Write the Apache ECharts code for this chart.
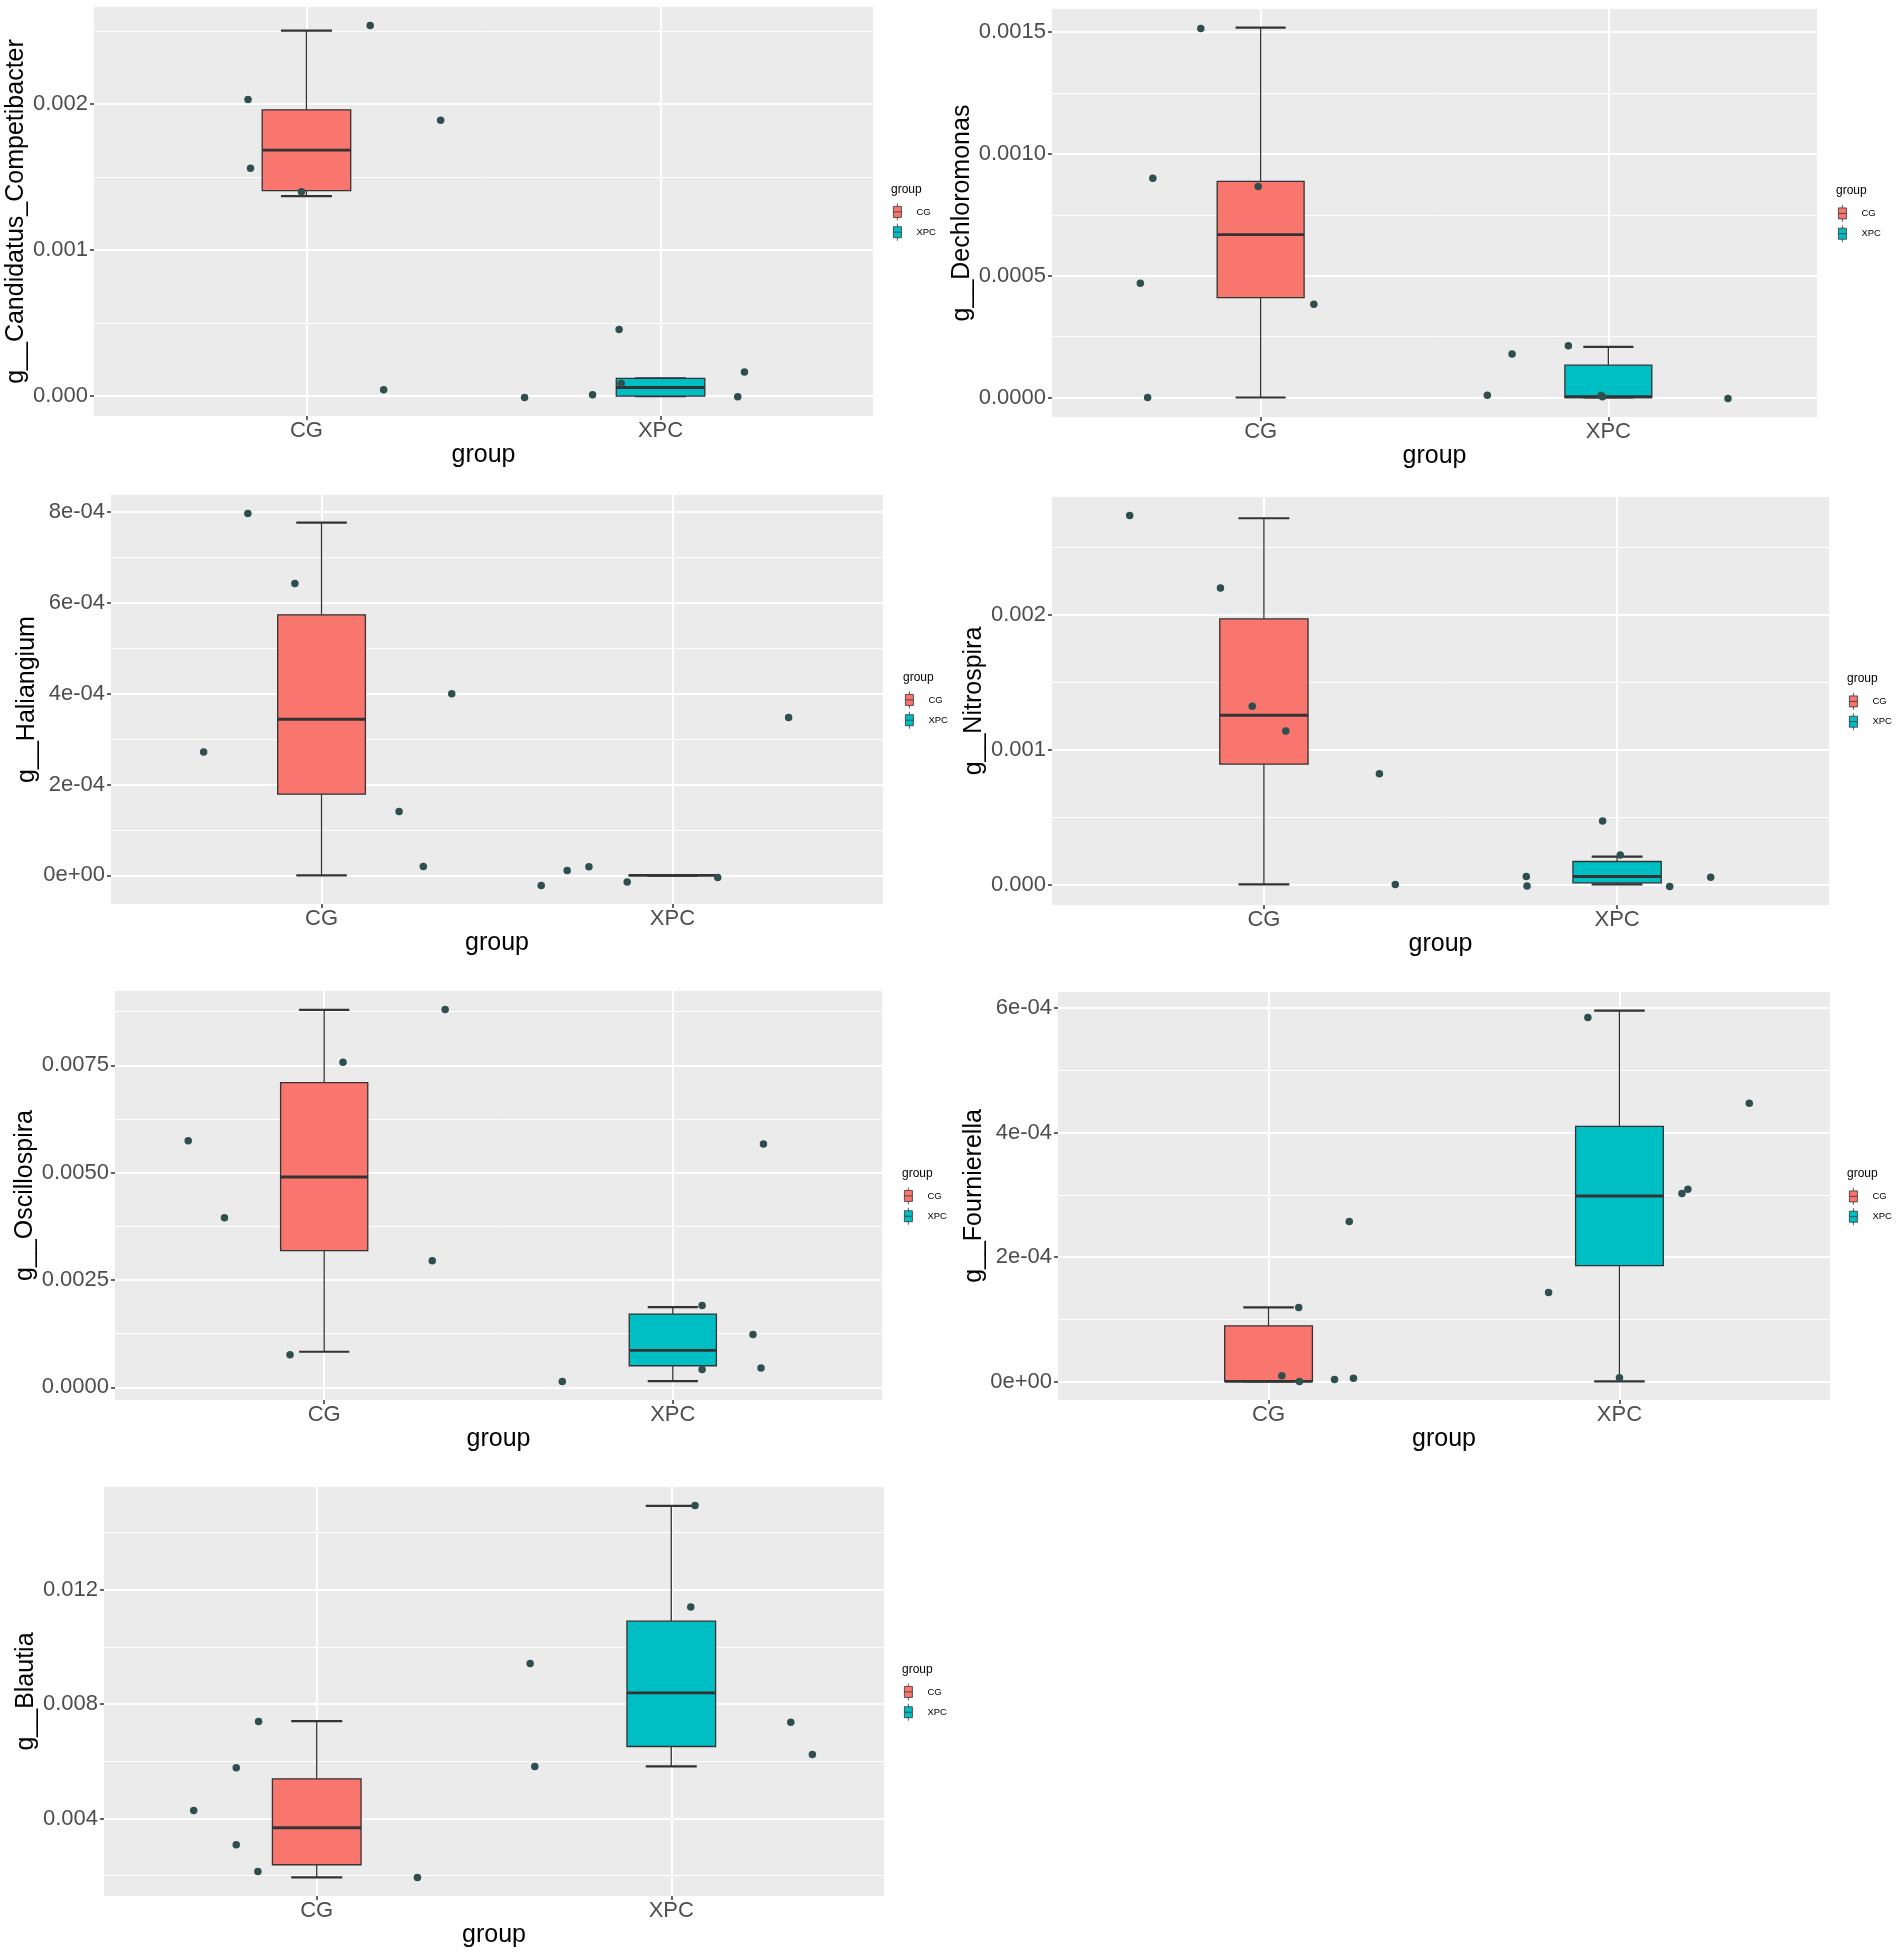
<!DOCTYPE html>
<html>
<head>
<meta charset="utf-8">
<script src="https://cdn.jsdelivr.net/npm/echarts@6/dist/echarts.min.js"></script>
<style>
  html, body { margin: 0; padding: 0; background: #fff; }
  #main { width: 1902px; height: 1957px; }
</style>
</head>
<body>
<div id="main"></div>
<script>
var groups = ['CG', 'XPC'];

// box stats per group: [min, Q1, median, Q3, max]
// points: [jittered x (1 = CG, 2 = XPC), value]

// g__Candidatus_Competibacter
var competibacterBox = [[0.001371, 0.001408, 0.001685, 0.001961, 0.002505], [0, 0, 0.000059, 0.000121, 0.000121]];
var competibacterCG = [[0.835, 0.002032], [0.842, 0.001561], [0.986, 0.001401], [1.180, 0.002539], [1.379, 0.00189], [1.218, 0.0000434]];
var competibacterXPC = [[1.616, -0.000009], [1.808, 0.000009], [1.883, 0.000457], [1.889, 0.000087], [2.218, -0.000005], [2.237, 0.000165]];
var competibacterTicks = [0, 0.001, 0.002];
var competibacterLabels = ['0.000', '0.001', '0.002'];
var competibacterMinor = [0.0005, 0.0015, 0.0025];

// g__Dechloromonas
var dechloromonasBox = [[0, 0.00041, 0.000669, 0.000887, 0.001519], [0, 0, 0.000003, 0.0001325, 0.000208]];
var dechloromonasCG = [[0.828, 0.001515], [0.690, 0.0009], [0.993, 0.000866], [0.654, 0.000469], [1.153, 0.000383], [0.675, 0]];
var dechloromonasXPC = [[1.652, 0.0000096], [1.723, 0.000179], [1.885, 0.000212], [1.979, 0.0000082], [1.983, 0.0000027], [2.344, -0.000004]];
var dechloromonasTicks = [0, 0.0005, 0.001, 0.0015];
var dechloromonasLabels = ['0.0000', '0.0005', '0.0010', '0.0015'];
var dechloromonasMinor = [0.00025, 0.00075, 0.00125];

// g__Haliangium
var haliangiumBox = [[0, 0.000179, 0.000344, 0.000574, 0.000777], [0, 0, 0, 0, 0]];
var haliangiumCG = [[0.790, 0.000797], [0.924, 0.000643], [0.664, 0.000272], [1.371, 0.0004], [1.221, 0.000141], [1.290, 0.0000198]];
var haliangiumXPC = [[1.626, -0.000022], [1.700, 0.000011], [1.762, 0.000019], [1.871, -0.0000147], [2.129, -0.0000044], [2.331, 0.000348]];
var haliangiumTicks = [0, 0.0002, 0.0004, 0.0006, 0.0008];
var haliangiumLabels = ['0e+00', '2e-04', '4e-04', '6e-04', '8e-04'];
var haliangiumMinor = [0.0001, 0.0003, 0.0005, 0.0007];

// g__Nitrospira
var nitrospiraBox = [[0, 0.000892, 0.001254, 0.001968, 0.002714], [0, 0.0000123, 0.0000591, 0.00017, 0.000207]];
var nitrospiraCG = [[0.620, 0.002734], [0.877, 0.002197], [0.967, 0.00132], [1.062, 0.001138], [1.327, 0.00082], [1.372, 0]];
var nitrospiraXPC = [[1.743, 0.0000591], [1.745, -0.0000123], [1.959, 0.00047], [2.009, 0.000219], [2.149, -0.0000148], [2.265, 0.0000542]];
var nitrospiraTicks = [0, 0.001, 0.002];
var nitrospiraLabels = ['0.000', '0.001', '0.002'];
var nitrospiraMinor = [0.0005, 0.0015, 0.0025];

// g__Oscillospira
var oscillospiraBox = [[0.000831, 0.003183, 0.004899, 0.007096, 0.008789], [0.000148, 0.000505, 0.000862, 0.001708, 0.001871]];
var oscillospiraCG = [[0.610, 0.005745], [0.714, 0.003952], [0.902, 0.000761], [1.054, 0.00757], [1.347, 0.008797], [1.310, 0.00295]];
var oscillospiraXPC = [[1.683, 0.00014], [2.084, 0.00191], [2.084, 0.000419], [2.230, 0.001234], [2.253, 0.00045], [2.260, 0.005668]];
var oscillospiraTicks = [0, 0.0025, 0.005, 0.0075];
var oscillospiraLabels = ['0.0000', '0.0025', '0.0050', '0.0075'];
var oscillospiraMinor = [0.00125, 0.00375, 0.00625, 0.00875];

// g__Fournierella
var fournierellaBox = [[0, 0, 0, 0.0000893, 0.000119], [0, 0.000186, 0.000298, 0.00041, 0.000596]];
var fournierellaCG = [[1.086, 0.000119], [1.038, 0.0000091], [1.088, 0], [1.188, 0.0000032], [1.242, 0.0000053], [1.230, 0.000257]];
var fournierellaXPC = [[1.910, 0.000585], [1.798, 0.000143], [2.0, 0.0000059], [2.178, 0.000302], [2.195, 0.000309], [2.370, 0.000447]];
var fournierellaTicks = [0, 0.0002, 0.0004, 0.0006];
var fournierellaLabels = ['0e+00', '2e-04', '4e-04', '6e-04'];
var fournierellaMinor = [0.0001, 0.0003, 0.0005];

// g__Blautia
var blautiaBox = [[0.001939, 0.002381, 0.003674, 0.005386, 0.0074], [0.005817, 0.006515, 0.00839, 0.010894, 0.014923]];
var blautiaCG = [[0.653, 0.004279], [0.773, 0.00577], [0.836, 0.007389], [0.773, 0.00308], [0.834, 0.002148], [1.284, 0.001939]];
var blautiaXPC = [[1.602, 0.009415], [1.615, 0.005817], [2.067, 0.014935], [2.055, 0.011394], [2.337, 0.007365], [2.398, 0.006236]];
var blautiaTicks = [0.004, 0.008, 0.012];
var blautiaLabels = ['0.004', '0.008', '0.012'];
var blautiaMinor = [0.002, 0.006, 0.01, 0.014];

var panels = [
  { name: 'g__Candidatus_Competibacter', box: competibacterBox, cg: competibacterCG, xpc: competibacterXPC, ticks: competibacterTicks, labels: competibacterLabels, minor: competibacterMinor },
  { name: 'g__Dechloromonas', box: dechloromonasBox, cg: dechloromonasCG, xpc: dechloromonasXPC, ticks: dechloromonasTicks, labels: dechloromonasLabels, minor: dechloromonasMinor },
  { name: 'g__Haliangium', box: haliangiumBox, cg: haliangiumCG, xpc: haliangiumXPC, ticks: haliangiumTicks, labels: haliangiumLabels, minor: haliangiumMinor },
  { name: 'g__Nitrospira', box: nitrospiraBox, cg: nitrospiraCG, xpc: nitrospiraXPC, ticks: nitrospiraTicks, labels: nitrospiraLabels, minor: nitrospiraMinor },
  { name: 'g__Oscillospira', box: oscillospiraBox, cg: oscillospiraCG, xpc: oscillospiraXPC, ticks: oscillospiraTicks, labels: oscillospiraLabels, minor: oscillospiraMinor },
  { name: 'g__Fournierella', box: fournierellaBox, cg: fournierellaCG, xpc: fournierellaXPC, ticks: fournierellaTicks, labels: fournierellaLabels, minor: fournierellaMinor },
  { name: 'g__Blautia', box: blautiaBox, cg: blautiaCG, xpc: blautiaXPC, ticks: blautiaTicks, labels: blautiaLabels, minor: blautiaMinor }
];

// plot rectangles in pixels
var layout = [
  { left: 94, top: 7, right: 873, bottom: 416, nameGap: 63, legendLeft: 891 },
  { left: 1052, top: 9, right: 1817, bottom: 417, nameGap: 76, legendLeft: 1836 },
  { left: 111, top: 495, right: 883, bottom: 904, nameGap: 69, legendLeft: 903 },
  { left: 1052, top: 497, right: 1829, bottom: 905, nameGap: 64, legendLeft: 1847 },
  { left: 115, top: 991, right: 882, bottom: 1400, nameGap: 74, legendLeft: 902 },
  { left: 1058, top: 992, right: 1830, bottom: 1400, nameGap: 70, legendLeft: 1847 },
  { left: 104, top: 1487, right: 884, bottom: 1896, nameGap: 64, legendLeft: 902 }
];

var fillColors = ['#F8766D', '#00BFC4'];
var ink = '#333333';

function valueRange(p) {
  var vals = [];
  p.box.forEach(function (b) { vals = vals.concat(b); });
  p.cg.concat(p.xpc).forEach(function (d) { vals.push(d[1]); });
  var lo = Math.min.apply(null, vals), hi = Math.max.apply(null, vals);
  var pad = (hi - lo) * 0.05;
  return [lo - pad, hi + pad];
}

function renderBox(params, api) {
  var x = api.value(0);
  var lo = api.value(1), q1 = api.value(2), med = api.value(3), q3 = api.value(4), hi = api.value(5);
  var half = 0.125, cap = 0.072;
  function pt(dx, v) { return api.coord([x + dx, v]); }
  function seg(a, b, w) {
    return { type: 'line', shape: { x1: a[0], y1: a[1], x2: b[0], y2: b[1] }, style: { stroke: ink, lineWidth: w } };
  }
  var tl = pt(-half, q3), br = pt(half, q1);
  return {
    type: 'group',
    children: [
      seg(pt(0, q3), pt(0, hi), 1.3),
      seg(pt(0, q1), pt(0, lo), 1.3),
      seg(pt(-cap, hi), pt(cap, hi), 2.2),
      seg(pt(-cap, lo), pt(cap, lo), 2.2),
      { type: 'rect', shape: { x: tl[0], y: tl[1], width: br[0] - tl[0], height: br[1] - tl[1] },
        style: { fill: api.visual('color'), stroke: ink, lineWidth: 1.3 } },
      seg(pt(-half, med), pt(half, med), 2.8)
    ]
  };
}

var grids = [], xAxes = [], yAxes = [], series = [], legends = [], titles = [];

panels.forEach(function (p, i) {
  var L = layout[i];
  var range = valueRange(p);
  var mid = (L.top + L.bottom) / 2;

  grids.push({
    left: L.left, top: L.top, width: L.right - L.left, height: L.bottom - L.top,
    show: true, backgroundColor: '#EBEBEB', borderWidth: 0
  });

  xAxes.push({
    gridIndex: i, type: 'value', min: 0.4, max: 2.6, position: 'bottom',
    name: 'group', nameLocation: 'middle', nameGap: 26,
    nameTextStyle: { fontSize: 25, color: '#000' },
    axisLine: { show: false, onZero: false },
    axisTick: { show: true, customValues: [1, 2], length: 4, lineStyle: { color: ink, width: 1.5 } },
    axisLabel: {
      customValues: [1, 2], margin: 4, fontSize: 22, color: '#4D4D4D',
      formatter: function (v) { return groups[Math.round(v) - 1]; }
    },
    splitLine: { show: true, lineStyle: { color: '#FFFFFF', width: 2 } }
  });

  yAxes.push({
    gridIndex: i, type: 'value', min: range[0], max: range[1], position: 'left',
    name: p.name, nameLocation: 'middle', nameGap: L.nameGap, nameRotate: 90,
    nameTextStyle: { fontSize: 25, color: '#000' },
    axisLine: { show: false, onZero: false },
    axisTick: { show: true, customValues: p.ticks, length: 4, lineStyle: { color: ink, width: 1.5 } },
    axisLabel: {
      customValues: p.ticks, margin: 6, fontSize: 22, color: '#4D4D4D',
      formatter: function (v) {
        for (var k = 0; k < p.ticks.length; k++) {
          if (Math.abs(p.ticks[k] - v) < 1e-12) return p.labels[k];
        }
        return '';
      }
    },
    splitLine: { show: true, lineStyle: { color: '#FFFFFF', width: 2 } },
    z: 1
  });
  // minor grid lines
  yAxes.push({
    gridIndex: i, type: 'value', min: range[0], max: range[1], position: 'left',
    axisLine: { show: false, onZero: false },
    axisTick: { show: false, customValues: p.minor },
    axisLabel: { show: false },
    splitLine: { show: true, lineStyle: { color: '#FFFFFF', width: 1 } },
    z: 0
  });

  groups.forEach(function (g, j) {
    series.push({
      name: g, type: 'custom', xAxisIndex: i, yAxisIndex: 2 * i,
      renderItem: renderBox,
      itemStyle: { color: fillColors[j], borderColor: ink, borderWidth: 1 },
      data: [[j + 1].concat(p.box[j])],
      z: 2
    });
  });

  series.push({
    name: 'points', type: 'scatter', xAxisIndex: i, yAxisIndex: 2 * i,
    symbolSize: 7.5, itemStyle: { color: '#2F4F4F', opacity: 1 },
    data: p.cg.concat(p.xpc),
    z: 5
  });

  titles.push({
    text: 'group', left: L.legendLeft, top: mid - 28, padding: 0,
    textStyle: { fontSize: 12, fontWeight: 'normal', color: '#000' }
  });
  legends.push({
    data: groups, orient: 'vertical', left: L.legendLeft + 2, top: mid - 8.5, padding: 0,
    itemWidth: 8, itemHeight: 17, itemGap: 2.5,
    icon: 'path://M4,0V3M0,3H8V14H0ZM0,8.5H8M4,14V17',
    itemStyle: { borderColor: ink, borderWidth: 0.8 },
    textStyle: { fontSize: 9.5, color: '#000', padding: [0, 0, 0, 10] },
    selectedMode: false
  });
});

var option = {
  animation: false,
  textStyle: { fontFamily: '"Liberation Sans", Arial, Helvetica, sans-serif' },
  title: titles,
  legend: legends,
  grid: grids,
  xAxis: xAxes,
  yAxis: yAxes,
  series: series
};

echarts.init(document.getElementById('main')).setOption(option);
</script>
</body>
</html>
